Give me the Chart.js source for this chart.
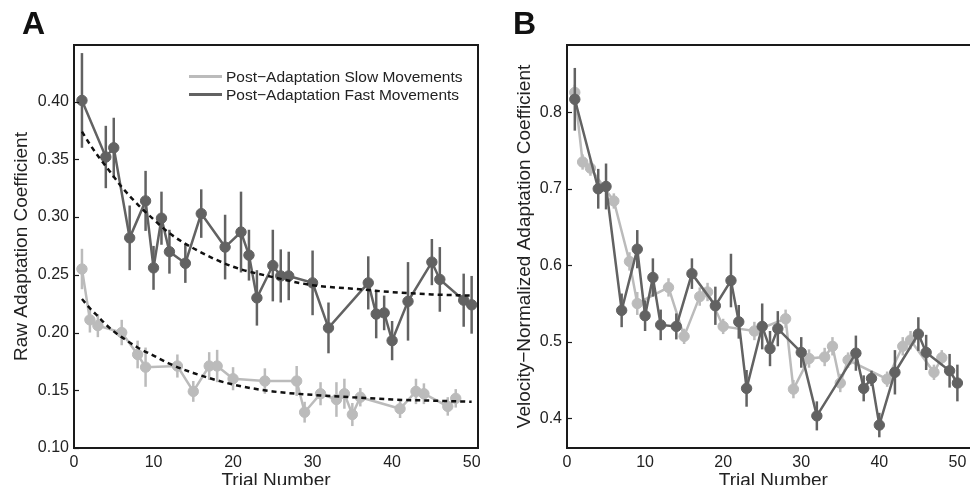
<!DOCTYPE html>
<html>
<head>
<meta charset="utf-8">
<script src="https://cdn.jsdelivr.net/npm/chart.js@4"></script>
<style>
body { margin: 0; background: #fff; font-family: "Liberation Sans", Arial, sans-serif; }
#wrap { position: relative; width: 970px; height: 485px; overflow: hidden; }
.panel { position: absolute; top: 0; height: 485px; }
.letter { position: absolute; top: 7px; font-size: 32px; font-weight: bold; line-height: 1; color: #111; }
.legline { position: absolute; left: 189px; width: 33px; height: 3px; }
.legtxt { position: absolute; left: 226px; font-size: 15.5px; line-height: 1; color: #222; white-space: nowrap; }
</style>
</head>
<body>
<div id="wrap">
  <div class="panel" style="left:0;width:485px"><canvas id="chartA"></canvas></div>
  <div class="panel" style="left:485px;width:501px"><canvas id="chartB"></canvas></div>
  <div class="letter" style="left:22px">A</div>
  <div class="letter" style="left:513px">B</div>
  <div class="legline" style="top:75px;background:#bbbbbb"></div>
  <div class="legline" style="top:93px;background:#626262"></div>
  <div class="legtxt" style="top:69px">Post−Adaptation Slow Movements</div>
  <div class="legtxt" style="top:87px">Post−Adaptation Fast Movements</div>
</div>
<script>
// trials where each condition was sampled
var slowTrials = [1, 2, 3, 6, 8, 9, 13, 15, 17, 18, 20, 24, 28, 29, 31, 33, 34, 35, 36, 41, 43, 44, 47, 48];
var fastTrials = [1, 4, 5, 7, 9, 10, 11, 12, 14, 16, 19, 21, 22, 23, 25, 26, 27, 30, 32, 37, 38, 39, 40, 42, 45, 46, 49, 50];

// panel A: raw adaptation coefficient
var slowRaw = [0.255, 0.211, 0.206, 0.200, 0.181, 0.170, 0.171, 0.149, 0.171, 0.171, 0.160, 0.158, 0.158, 0.131, 0.147, 0.142, 0.147, 0.129, 0.144, 0.134, 0.149, 0.147, 0.136, 0.143];
var slowRawErr = [0.0175, 0.011, 0.010, 0.011, 0.012, 0.017, 0.010, 0.009, 0.012, 0.014, 0.010, 0.011, 0.013, 0.009, 0.010, 0.015, 0.013, 0.010, 0.008, 0.008, 0.011, 0.009, 0.008, 0.008];
var fastRaw = [0.401, 0.352, 0.360, 0.282, 0.314, 0.256, 0.299, 0.270, 0.260, 0.303, 0.274, 0.287, 0.267, 0.230, 0.258, 0.249, 0.249, 0.243, 0.204, 0.243, 0.216, 0.217, 0.193, 0.227, 0.261, 0.246, 0.228, 0.224];
var fastRawErr = [0.041, 0.027, 0.026, 0.028, 0.026, 0.019, 0.023, 0.019, 0.017, 0.021, 0.028, 0.035, 0.022, 0.024, 0.031, 0.023, 0.021, 0.028, 0.022, 0.023, 0.021, 0.015, 0.017, 0.034, 0.020, 0.028, 0.023, 0.025];

// dashed exponential fits
var fitTrials = [1, 2, 3, 4, 5, 6, 8, 10, 12, 15, 20, 25, 30, 35, 40, 45, 50];
var slowFit = [0.229, 0.221, 0.214, 0.207, 0.201, 0.196, 0.187, 0.180, 0.173, 0.165, 0.155, 0.149, 0.146, 0.144, 0.142, 0.141, 0.140];
var fastFit = [0.374, 0.363, 0.353, 0.344, 0.335, 0.326, 0.311, 0.298, 0.286, 0.273, 0.257, 0.248, 0.241, 0.238, 0.235, 0.233, 0.232];

// panel B: velocity-normalized adaptation coefficient
var slowNorm = [0.826, 0.735, 0.727, 0.684, 0.605, 0.550, 0.571, 0.507, 0.559, 0.565, 0.520, 0.514, 0.530, 0.438, 0.478, 0.480, 0.494, 0.446, 0.476, 0.451, 0.494, 0.502, 0.460, 0.479];
var slowNormErr = [0.010, 0.010, 0.010, 0.010, 0.012, 0.015, 0.012, 0.010, 0.012, 0.012, 0.010, 0.012, 0.012, 0.012, 0.012, 0.012, 0.012, 0.012, 0.010, 0.010, 0.012, 0.012, 0.010, 0.010];
var fastNorm = [0.817, 0.700, 0.703, 0.541, 0.621, 0.534, 0.584, 0.522, 0.520, 0.589, 0.547, 0.580, 0.526, 0.439, 0.520, 0.491, 0.517, 0.486, 0.403, 0.485, 0.439, 0.452, 0.391, 0.460, 0.510, 0.486, 0.462, 0.446];
var fastNormErr = [0.041, 0.026, 0.030, 0.022, 0.025, 0.020, 0.025, 0.020, 0.017, 0.020, 0.025, 0.035, 0.022, 0.024, 0.030, 0.023, 0.023, 0.020, 0.019, 0.023, 0.017, 0.010, 0.016, 0.029, 0.022, 0.023, 0.022, 0.024];

// axis ticks
var xTicks = [0, 10, 20, 30, 40, 50];
var yTicksA = [0.10, 0.15, 0.20, 0.25, 0.30, 0.35, 0.40];
var yLabelsA = ['0.10', '0.15', '0.20', '0.25', '0.30', '0.35', '0.40'];
var yTicksB = [0.4, 0.5, 0.6, 0.7, 0.8];
var yLabelsB = ['0.4', '0.5', '0.6', '0.7', '0.8'];

var slowColor = '#bbbbbb';
var fastColor = '#626262';

function pts(xs, ys) {
  return xs.map(function (x, i) { return { x: x, y: ys[i] }; });
}

// vertical error bars, drawn just before each dataset
var errorBars = {
  id: 'errorBars',
  beforeDatasetDraw: function (chart, args) {
    var ds = chart.data.datasets[args.index];
    if (!ds.errors) return;
    var ctx = chart.ctx, xs = chart.scales.x, ys = chart.scales.y;
    ctx.save();
    ctx.strokeStyle = ds.borderColor;
    ctx.lineWidth = 2.5;
    ds.data.forEach(function (p, i) {
      var e = ds.errors[i];
      var px = xs.getPixelForValue(p.x);
      ctx.beginPath();
      ctx.moveTo(px, ys.getPixelForValue(p.y - e));
      ctx.lineTo(px, ys.getPixelForValue(p.y + e));
      ctx.stroke();
    });
    ctx.restore();
  }
};

// box around the plot plus small inward y ticks
var frame = {
  id: 'frame',
  afterDraw: function (chart) {
    var ctx = chart.ctx, a = chart.chartArea, y = chart.scales.y;
    ctx.save();
    ctx.strokeStyle = '#1a1a1a';
    ctx.lineWidth = 2;
    ctx.strokeRect(a.left, a.top, a.right - a.left, a.bottom - a.top);
    ctx.lineWidth = 1.2;
    y.ticks.forEach(function (t) {
      var py = Math.round(y.getPixelForValue(t.value)) + 0.5;
      ctx.beginPath();
      ctx.moveTo(a.left, py);
      ctx.lineTo(a.left + 5, py);
      ctx.stroke();
    });
    ctx.restore();
  }
};

function series(label, xs, ys, errs, color, order) {
  return {
    label: label,
    data: pts(xs, ys),
    errors: errs,
    borderColor: color,
    backgroundColor: color,
    borderWidth: 2.5,
    pointRadius: 5.2,
    pointBorderWidth: 1,
    order: order
  };
}

function fit(ys) {
  return {
    label: 'fit',
    data: pts(fitTrials, ys),
    borderColor: '#111',
    borderWidth: 2.5,
    borderDash: [5, 4],
    pointRadius: 0,
    cubicInterpolationMode: 'monotone',
    order: 0
  };
}

function makeChart(id, datasets, o) {
  return new Chart(document.getElementById(id), {
    type: 'line',
    data: { datasets: datasets },
    plugins: [errorBars, frame],
    options: {
      responsive: true,
      maintainAspectRatio: false,
      animation: false,
      layout: { padding: { top: 45, right: o.padRight, left: 0, bottom: 0 } },
      plugins: { legend: { display: false }, tooltip: { enabled: false } },
      scales: {
        x: {
          type: 'linear',
          min: 0,
          max: o.xMax,
          border: { display: false },
          grid: { display: false, drawTicks: false },
          ticks: { font: { size: 16 }, color: '#222', padding: 5, maxRotation: 0 },
          afterBuildTicks: function (s) { s.ticks = xTicks.map(function (v) { return { value: v }; }); },
          afterFit: function (s) { s.height = 37; s.paddingLeft = 0; s.paddingRight = 0; },
          title: { display: true, text: 'Trial Number', color: '#222', font: { size: 19, lineHeight: 0.42 }, padding: 0 }
        },
        y: {
          min: o.yMin,
          max: o.yMax,
          border: { display: false },
          grid: { display: false, drawTicks: false },
          ticks: {
            font: { size: 16 }, color: '#222', padding: 5,
            callback: function (v, i) { return o.yLabels[i]; }
          },
          afterBuildTicks: function (s) { s.ticks = o.yTicks.map(function (v) { return { value: v }; }); },
          afterFit: function (s) { s.width = o.yWidth; s.paddingTop = 0; s.paddingBottom = 0; },
          title: { display: true, text: o.yTitle, color: '#222', font: { size: 19 }, padding: { top: o.titlePad, bottom: 0 } }
        }
      }
    }
  });
}

makeChart('chartA', [
  fit(fastFit),
  fit(slowFit),
  series('Post−Adaptation Fast Movements', fastTrials, fastRaw, fastRawErr, fastColor, 1),
  series('Post−Adaptation Slow Movements', slowTrials, slowRaw, slowRawErr, slowColor, 2)
], {
  xMax: 50.8, yMin: 0.10, yMax: 0.449, yTicks: yTicksA, yLabels: yLabelsA,
  yWidth: 74, padRight: 7, titlePad: 10, yTitle: 'Raw Adaptation Coefficient'
});

makeChart('chartB', [
  series('Post−Adaptation Fast Movements', fastTrials, fastNorm, fastNormErr, fastColor, 1),
  series('Post−Adaptation Slow Movements', slowTrials, slowNorm, slowNormErr, slowColor, 2)
], {
  xMax: 52.87, yMin: 0.361, yMax: 0.888, yTicks: yTicksB, yLabels: yLabelsB,
  yWidth: 82, padRight: 0, titlePad: 28.6, yTitle: 'Velocity−Normalized Adaptation Coefficient'
});
</script>
</body>
</html>
